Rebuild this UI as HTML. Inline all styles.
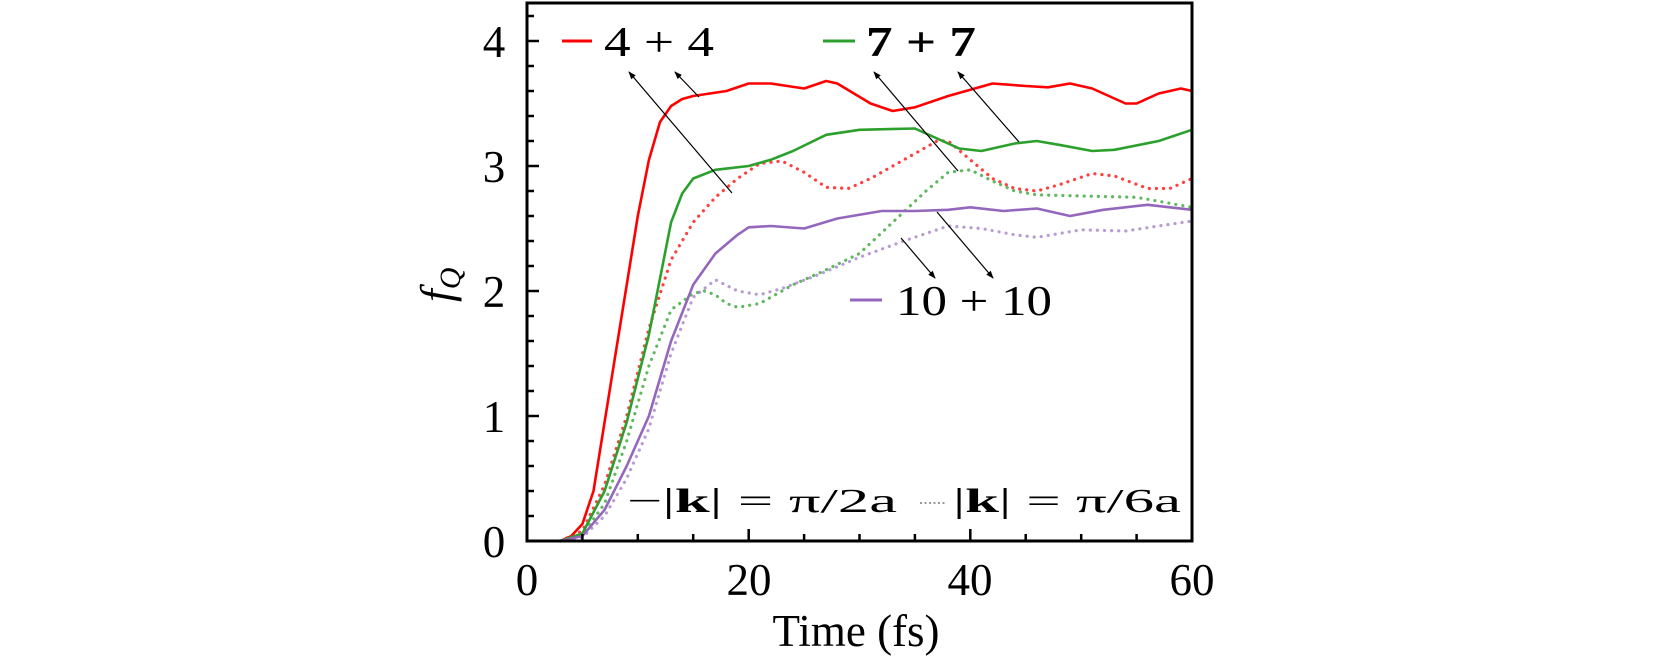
<!DOCTYPE html>
<html><head><meta charset="utf-8"><style>
html,body{margin:0;padding:0;background:#fff;}
svg{display:block;}
text{font-family:"Liberation Serif",serif;fill:#000;}
</style></head><body>
<svg width="1661" height="664" viewBox="0 0 1661 664" xmlns="http://www.w3.org/2000/svg">
<g fill="none" stroke-linejoin="round" stroke-linecap="round">
<polyline stroke="#f00" stroke-width="2.6" points="527,541 560.2,541 571.3,536 582.4,524 593.5,491 604.6,422 615.7,353 626.7,285 637.8,216 648.9,160 660,122 671.1,106 682.2,99 693.2,96 726.5,91 748.7,83.5 770.8,83.5 804.1,88.5 826.2,81 837.3,83.5 870.6,103.5 892.7,111 914.9,107.3 948.2,96 992.5,83.5 1025.7,86 1047.9,87.3 1070.1,83.5 1092.2,88.5 1125.5,103.5 1136.6,103.5 1158.7,93.5 1180.9,88.5 1192,91"/>
<g stroke-width="3.2" stroke-dasharray="0.1 7">
<polyline stroke="#f00" opacity="0.75" points="560.2,541 582.4,531 604.6,484.8 626.7,416 648.9,328.5 671.1,259.8 693.2,222.3 715.4,197.3 737.6,178.5 759.7,163.5 781.9,161 804.1,172.3 826.2,187.3 848.4,188.5 870.6,178.5 903.8,159.8 937.1,141 948.2,141 970.3,159.8 992.5,178.5 1014.7,188.5 1036.8,191 1059,184.8 1092.2,173.5 1114.4,176 1147.6,188.5 1169.8,188.5 1192,178.5"/>
<polyline stroke="#2ca02c" opacity="0.75" points="560.2,541 582.4,534.8 604.6,503.5 626.7,441 648.9,366 671.1,309.8 693.2,293.5 704.3,291 715.4,294.8 726.5,303.5 737.6,307.3 759.7,303.5 793,284.8 826.2,269.8 859.5,253.5 892.7,222.3 926,191 948.2,172.3 970.3,169.8 992.5,181 1014.7,191 1036.8,194.8 1081.2,196 1136.6,197.3 1192,207.3"/>
<polyline stroke="#9467bd" opacity="0.65" points="560.2,541 582.4,537.3 604.6,516 626.7,478.5 648.9,428.5 671.1,353.5 693.2,297.3 715.4,279.8 737.6,291 759.7,294.8 781.9,288.5 815.2,276 859.5,257.3 903.8,241 948.2,226 981.4,228.5 1014.7,234.8 1036.8,237.3 1081.2,229.8 1125.5,231 1158.7,226 1192,221"/>
</g>
<polyline stroke="#2ca02c" stroke-width="2.6" points="560.2,541 582.4,533.5 604.6,491 626.7,422.3 648.9,334.8 660,278.5 671.1,222.3 682.2,193.5 693.2,178.5 715.4,169.8 748.7,166 770.8,159.8 793,151 826.2,134.8 859.5,129.8 914.9,128.5 937.1,138.5 959.2,148.5 981.4,151 1014.7,143.5 1036.8,141 1059,144.8 1092.2,151 1114.4,149.8 1158.7,141 1192,129.8"/>
<polyline stroke="#9467bd" stroke-width="2.6" points="560.2,541 582.4,536 604.6,509.8 626.7,466 648.9,416 671.1,341 693.2,284.8 715.4,253.5 737.6,234.8 748.7,227.3 770.8,226 804.1,228.5 837.3,218.5 881.7,211 914.9,211 948.2,209.8 970.3,207.3 1003.6,211 1036.8,208.5 1070.1,216 1103.3,209.8 1147.6,204.8 1192,209.8"/>
</g>
<rect x="527" y="3" width="665" height="538" fill="none" stroke="#000" stroke-width="3"/>
<path stroke="#000" stroke-width="2.5" d="M527,416h12M527,291h12M527,166h12M527,41h12
M527,516h7M527,491h7M527,466h7M527,441h7M527,391h7M527,366h7M527,341h7M527,316h7M527,266h7M527,241h7M527,216h7M527,191h7M527,141h7M527,116h7M527,91h7M527,66h7M527,16h7
M748.7,541v-12M970.3,541v-12
M582.4,541v-7M637.8,541v-7M693.2,541v-7M804.1,541v-7M859.5,541v-7M914.9,541v-7M1025.7,541v-7M1081.2,541v-7M1136.6,541v-7"/>
<g font-size="45" text-anchor="middle">
<text x="494" y="557">0</text><text x="494" y="432">1</text><text x="494" y="307">2</text><text x="494" y="182">3</text><text x="494" y="57">4</text>
<text x="527" y="595">0</text><text x="749" y="595">20</text><text x="970" y="595">40</text><text x="1192" y="595">60</text>
<text x="856" y="646">Time (fs)</text>
</g>
<text transform="translate(452,302) rotate(-90)" font-size="46" font-style="italic">f<tspan font-size="30" dy="8">Q</tspan></text>
<g stroke-width="3">
<line x1="562" y1="41" x2="592" y2="41" stroke="#f00"/>
<line x1="823" y1="41" x2="855" y2="41" stroke="#2ca02c"/>
<line x1="850" y1="300" x2="882" y2="300" stroke="#9467bd"/>
</g>
<g font-size="42">
<text x="604" y="56" textLength="110" lengthAdjust="spacingAndGlyphs">4 + 4</text>
<text x="866" y="56" textLength="110" lengthAdjust="spacingAndGlyphs" font-weight="bold">7 + 7</text>
<text x="896" y="315" textLength="156" lengthAdjust="spacingAndGlyphs">10 + 10</text>
</g>
<g font-size="34">
<text x="627" y="512" textLength="270" lengthAdjust="spacingAndGlyphs">−|<tspan font-weight="bold">k</tspan>| = π/2a</text>
<text x="953" y="512" textLength="228" lengthAdjust="spacingAndGlyphs">|<tspan font-weight="bold">k</tspan>| = π/6a</text>
</g>
<line x1="920" y1="503" x2="946" y2="503" stroke="#999" stroke-width="2" stroke-dasharray="2 2.5"/>
<defs><marker id="ah" markerWidth="8" markerHeight="6" refX="7" refY="3" orient="auto" markerUnits="userSpaceOnUse"><path d="M0,0 L8,3 L0,6 z" fill="#000"/></marker></defs>
<g stroke="#000" stroke-width="1.2" marker-end="url(#ah)">
<line x1="732" y1="193" x2="629" y2="72"/>
<line x1="699" y1="97" x2="675" y2="72"/>
<line x1="958" y1="171" x2="874" y2="72"/>
<line x1="1019" y1="142" x2="958" y2="72"/>
<line x1="901" y1="238" x2="935" y2="278"/>
<line x1="937" y1="212" x2="993" y2="278"/>
</g>
</svg>
</body></html>
